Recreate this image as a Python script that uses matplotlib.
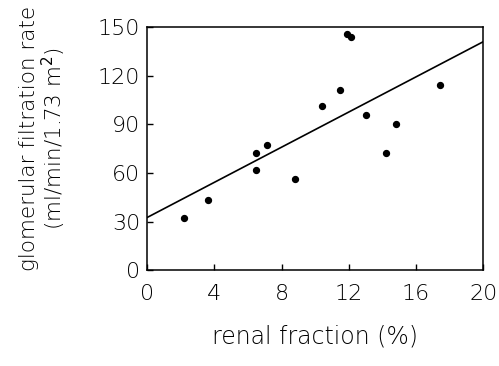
import matplotlib.pyplot as plt
import numpy as np

# renal fraction (%) vs GFR (ml/min/1.73 m2)
renal_fraction = [2.2, 3.6, 6.5, 6.5, 7.1, 8.8, 10.4, 11.5, 11.9, 12.1, 13.0, 14.2, 14.8, 17.4]
gfr = [32, 43, 72, 62, 77, 56, 101, 111, 146, 144, 96, 72, 90, 114]

# regression line end points
fit_x = [0, 20]
fit_y = [32.5, 141]

x_ticks = [0, 4, 8, 12, 16, 20]
y_ticks = [0, 30, 60, 90, 120, 150]

plt.rcParams['font.family'] = ['DejaVu Sans']

fig = plt.figure(figsize=(4.99, 3.66), dpi=100)
ax = fig.add_axes([0.295, 0.262, 0.6736, 0.664])

ax.plot(fit_x, fit_y, color='black', lw=1.2)
ax.scatter(renal_fraction, gfr, s=18, color='black', zorder=3)

ax.set_xlim(0, 20)
ax.set_ylim(0, 150)
ax.set_xticks(x_ticks)
ax.set_yticks(y_ticks)
ax.tick_params(direction='in', length=4, width=1, labelsize=16,
               top=False, right=False)
ax.tick_params(axis='x', pad=10)
ax.tick_params(axis='y', pad=5)
for lab in ax.get_xticklabels() + ax.get_yticklabels():
    lab.set_fontweight('light')
for s in ax.spines.values():
    s.set_linewidth(1.1)

ax.set_xlabel('renal fraction (%)', fontsize=17, fontweight='light')
ax.xaxis.set_label_coords(0.5, -0.272)
ax.xaxis.label.set_va('center')
ax.set_ylabel('glomerular filtration rate\n(ml/min/1.73 m$^2$)', fontsize=15.5,
              fontweight='light', linespacing=1.05)
ax.yaxis.set_label_coords(-0.235, 0.54)

fig.savefig('out.png', dpi=100)
